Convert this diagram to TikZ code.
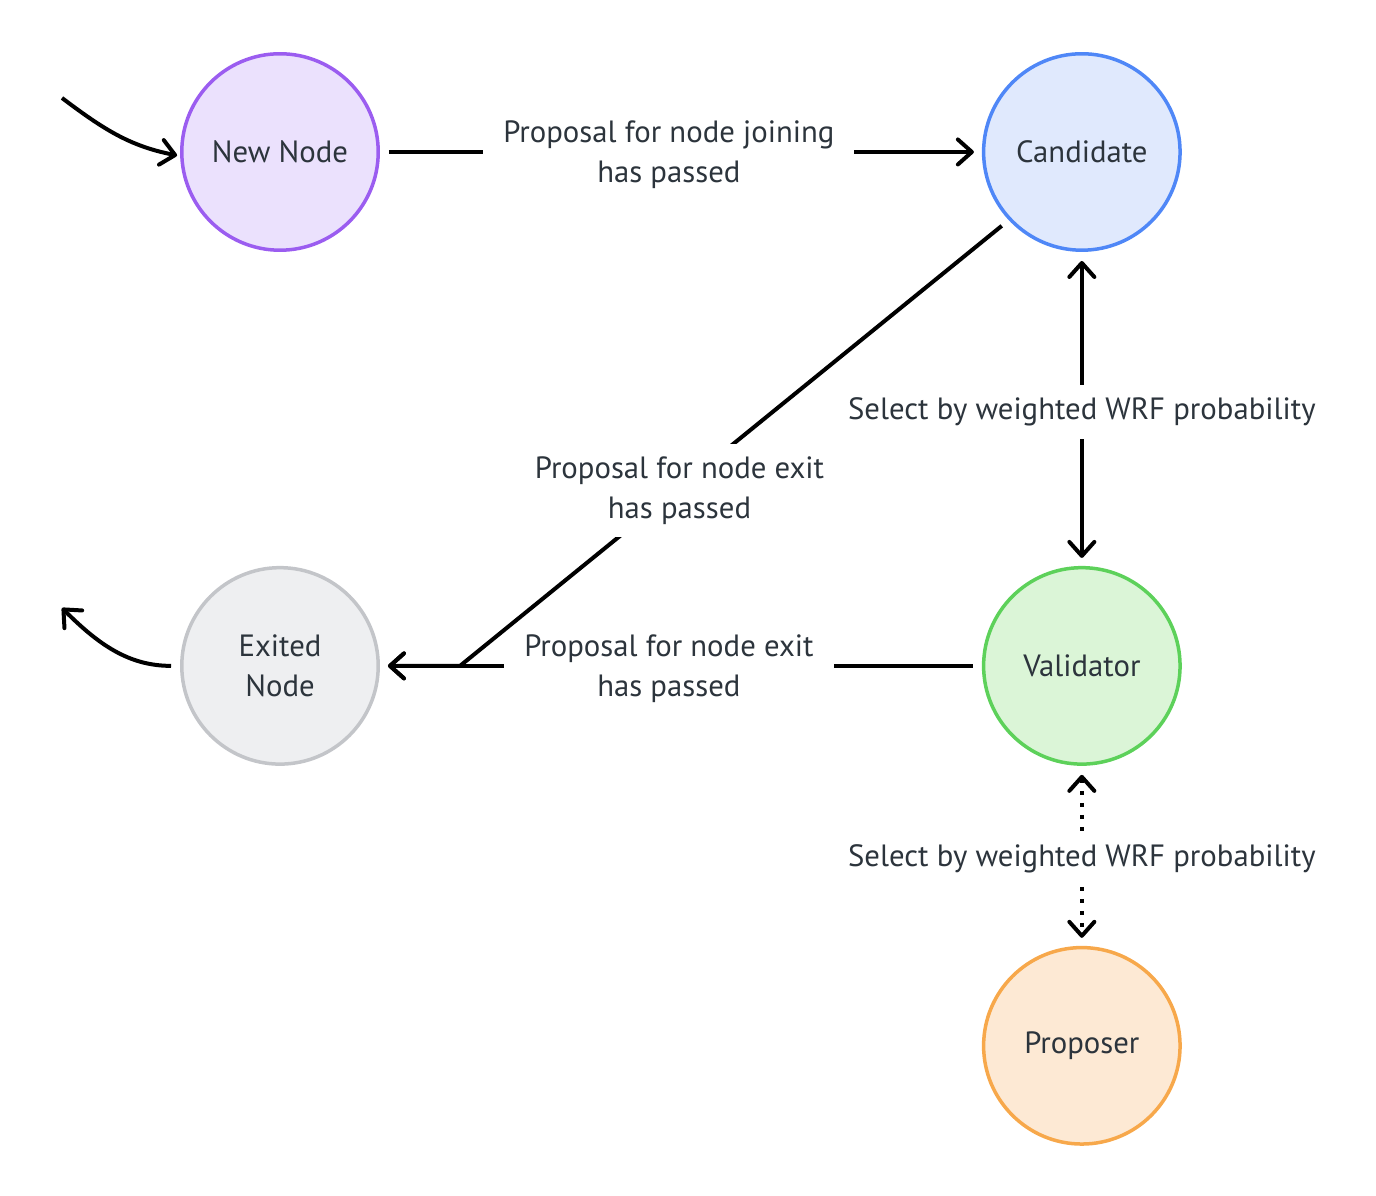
\documentclass[tikz,border=0pt]{standalone}
\usepackage{fontspec}
\setmainfont{PT Sans}
\usetikzlibrary{arrows.meta, positioning}
\definecolor{newline}{HTML}{9B5DF0}
\definecolor{newfill}{HTML}{EBE1FD}
\definecolor{candline}{HTML}{4F87F7}
\definecolor{candfill}{HTML}{E0E9FD}
\definecolor{exitline}{HTML}{C3C5C9}
\definecolor{exitfill}{HTML}{EEEFF1}
\definecolor{valline}{HTML}{5DD15A}
\definecolor{valfill}{HTML}{DBF5D7}
\definecolor{propline}{HTML}{F7A84B}
\definecolor{propfill}{HTML}{FDE9D4}
\definecolor{txt}{HTML}{2C343C}

\begin{document}
\begin{tikzpicture}[
    x = 0.02cm, y = 0.02cm,
    node distance = 6.28cm and 12.04cm,
    zustand/.style = {circle, draw, line width=0.07cm, minimum size=3.93cm, inner sep=0pt, align=center, text=txt},
    pfeil/.tip = {Straight Barb[length=0.28cm, width=0.5cm, round]},
    pil/.style = {black, line width=0.08cm, -pfeil, shorten >=0.16cm, shorten <=0.18cm},
    lbl/.style = {fill=white, inner xsep=0.4cm, inner ysep=0.25cm, align=center, text=txt},
    font=\fontsize{17.5}{22.7}\selectfont
    ]
  \useasboundingbox (0,0) rectangle (1376,1196);

  \node[zustand, draw=newline, fill=newfill] (new) at (280,1044) {New Node} ;
  \node[zustand, draw=candline, fill=candfill] (cand) [right=of new] {Candidate} ;
  \node[zustand, draw=exitline, fill=exitfill] (exit) [below=of new] {Exited\\Node} ;
  \node[zustand, draw=valline, fill=valfill] (val) [below=of cand] {Validator} ;
  \node[zustand, draw=propline, fill=propfill] (prop) [below=3.6cm of val] {Proposer} ;

  \coordinate (in) at (62,1098) ;
  \coordinate (out) at (62,588) ;
  \coordinate (j) at (460,0 |- exit) ;

  \draw[pil, shorten <=0pt, shorten >=0.06cm] (in) to[out=-37, in=169] ([yshift=-0.08cm]new.west) ;
  \draw[pil, shorten >=0pt] (exit.west) to[out=180, in=-45] (out) ;

  \draw[pil] (new) -- node[lbl, pos=0.48, yshift=-0.06cm] {Proposal for node joining\\has passed} (cand) ;
  \draw[pil, pfeil-pfeil] (cand) -- node[lbl, yshift=-0.06cm] {Select by weighted WRF probability} (val) ;
  \draw[pil, pfeil-pfeil, dash pattern=on 0.08cm off 0.16cm] (val) -- node[lbl, yshift=-0.06cm] {Select by weighted WRF probability} (prop) ;
  \draw[pil] (val) -- node[lbl, pos=0.52, yshift=-0.06cm] {Proposal for node exit\\has passed} (exit) ;
  \draw[pil] (cand.223) -- node[lbl, pos=0.6, yshift=-0.06cm] {Proposal for node exit\\has passed} (j) -- (exit) ;

\end{tikzpicture}
\end{document}
